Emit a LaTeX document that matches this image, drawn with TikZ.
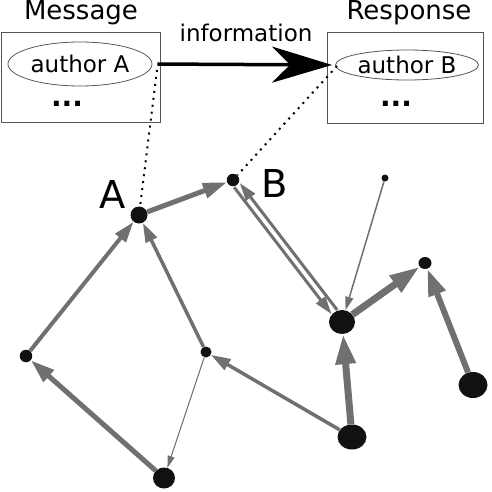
\documentclass[tikz,border=0pt]{standalone}
\usepackage{fontspec}
\setmainfont{DejaVu Sans}
\usetikzlibrary{arrows.meta,shapes.geometric}
\definecolor{edgegray}{RGB}{112,112,112}
\definecolor{nodeblack}{RGB}{17,17,17}
\definecolor{boxgray}{RGB}{85,85,85}
\begin{document}
\begin{tikzpicture}[x=1pt,y=-1pt,
  vert/.style={ellipse,fill=nodeblack,inner sep=0pt,draw=none},
  link/.style={draw=edgegray,line width=#1,
    -{Triangle[length=9pt 3,width=5pt 2,fill=edgegray]}},
  msgbox/.style={draw=boxgray,line width=1.2pt,inner sep=0pt,anchor=north west},
  authell/.style={ellipse,draw=boxgray,line width=0.8pt,inner sep=0pt,
    font=\fontsize{23}{27}\selectfont},
  title/.style={anchor=base,font=\fontsize{26}{30}\selectfont},
  big/.style={anchor=base,font=\fontsize{38.4}{44}\selectfont},
  dotline/.style={line width=2pt,dash pattern=on 2pt off 5pt,line cap=butt},
]
\useasboundingbox (0,0) rectangle (491,492);
% boxes
\node (boxA) [msgbox,minimum width=159pt,minimum height=90pt] at (0.6,32) {};
\node (boxB) [msgbox,minimum width=156pt,minimum height=91pt] at (327,32) {};
\node (tA) [title] at (81,20) {Message};
\node (tB) [title] at (409,20) {Response};
\node (info) [anchor=base,font=\fontsize{23}{27}\selectfont] at (246,42) {information};
\node (authA) [authell,minimum width=144pt,minimum height=44pt] at (80,64) {author A};
\node (authB) [authell,minimum width=143pt,minimum height=30pt] at (407,65) {author B};
\node (dotsA) [font=\fontsize{28}{32}\selectfont\bfseries] at (67,104) {...};
\node (dotsB) [font=\fontsize{28}{32}\selectfont\bfseries] at (396,104) {...};
% main arrow
\draw[line width=3.5pt,-{Stealth[length=60pt,width=36pt,inset=18pt]},shorten <=5pt,shorten >=3pt]
  (authA.east) -- (authB.west);
% graph nodes
\node (A) [vert,minimum width=17pt,minimum height=17pt] at (139,215) {};
\node (B) [vert,minimum width=12.5pt,minimum height=12.5pt] at (233,180) {};
\node (T) [vert,minimum width=7pt,minimum height=7pt] at (385,178) {};
\node (C) [vert,minimum width=26pt,minimum height=24pt] at (342,322) {};
\node (D) [vert,minimum width=13pt,minimum height=12pt] at (425,263) {};
\node (E) [vert,minimum width=29pt,minimum height=26pt] at (473,385) {};
\node (F) [vert,minimum width=12.5pt,minimum height=12.5pt] at (26,356) {};
\node (G) [vert,minimum width=11pt,minimum height=11pt] at (206,352) {};
\node (H) [vert,minimum width=22pt,minimum height=21pt] at (164,478) {};
\node (I) [vert,minimum width=29pt,minimum height=25pt] at (352,437) {};
\node (labA) [big] at (112.5,208) {A};
\node (labB) [big] at (275,197) {B};
% dotted links
\coordinate (dA) at (157,70);
\coordinate (dB) at (337,66);
\draw[dotline] (dA) -- (A);
\draw[dotline] (dB) -- (B);
% edges
\draw[link=4pt] (F) -- (A);
\draw[link=3.5pt] (G) -- (A);
\draw[link=5pt] (H) -- (F);
\draw[link=1pt] (G) -- (H);
\draw[link=3.5pt] (I) -- (G);
\draw[link=5pt] (A) -- (B);
\draw[link=3pt,transform canvas={shift={(-2.8,2.1)}}] (B) -- (C);
\draw[link=3pt,transform canvas={shift={(2.8,-2.1)}}] (C) -- (B);
\draw[link=1.5pt] (T) -- (C);
\draw[link=7pt] (C) -- (D);
\draw[link=6pt] (E) -- (D);
\draw[link=7pt] (I) -- (C);
\end{tikzpicture}
\end{document}
